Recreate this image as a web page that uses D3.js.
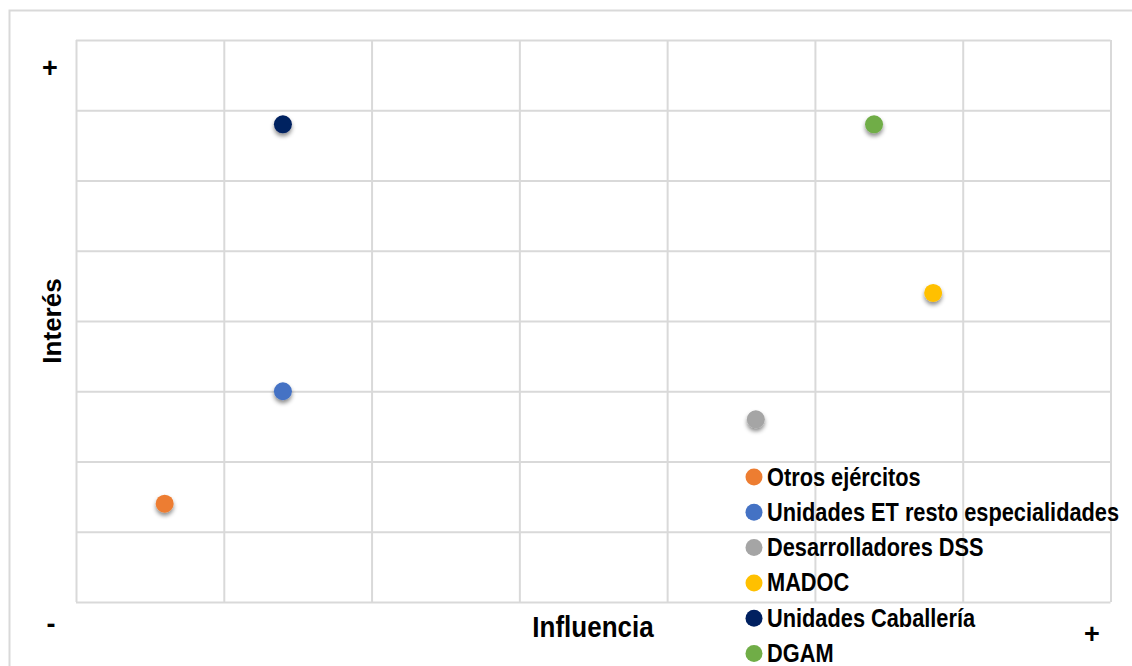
<!DOCTYPE html>
<html>
<head>
<meta charset="utf-8">
<script src="https://cdn.jsdelivr.net/npm/d3@7"></script>
<style>
  html, body { margin: 0; padding: 0; background: #ffffff; }
  svg { display: block; font-family: "Liberation Sans", Arial, sans-serif; }
</style>
</head>
<body>
<svg id="chart" width="1132" height="666"></svg>
<script>
// Stakeholder map: influence (x) vs interest (y)
const stakeholders = ["Otros ejércitos", "Unidades ET resto especialidades", "Desarrolladores DSS", "MADOC", "Unidades Caballería", "DGAM"];
const influence = [0.6, 1.4, 4.6, 5.8, 1.4, 5.4];
const interest  = [1.4, 3.0, 2.6, 4.4, 6.8, 6.8];
const colors    = ["#ED7D31", "#4472C4", "#A5A5A5", "#FFC000", "#002060", "#70AD47"];
const xTicks = [0, 1, 2, 3, 4, 5, 6, 7];
const yTicks = [0, 1, 2, 3, 4, 5, 6, 7, 8];

const svg = d3.select("#chart");
const W = 1132, H = 666;
const plot = { left: 76, right: 1110.5, top: 40, bottom: 602 };

const x = d3.scaleLinear().domain([0, 7]).range([plot.left, plot.right]);
const y = d3.scaleLinear().domain([0, 8]).range([plot.bottom, plot.top]);

// soft shadow under the markers
const defs = svg.append("defs");
const f = defs.append("filter").attr("id", "shadow")
  .attr("x", "-60%").attr("y", "-60%").attr("width", "220%").attr("height", "220%");
f.append("feDropShadow").attr("dx", 0).attr("dy", 3).attr("stdDeviation", 2.2)
  .attr("flood-color", "#000").attr("flood-opacity", 0.45);

// outer frame
svg.append("rect")
  .attr("x", 9.5).attr("y", 10.5).attr("width", W).attr("height", H)
  .attr("fill", "none").attr("stroke", "#d9d9d9").attr("stroke-width", 2);

// grid lines drawn through the axes
const gridX = d3.axisBottom(x).tickValues(xTicks).tickSize(-(plot.bottom - plot.top)).tickFormat("");
const gridY = d3.axisLeft(y).tickValues(yTicks).tickSize(-(plot.right - plot.left)).tickFormat("");

const gx = svg.append("g").attr("transform", `translate(0,${plot.bottom})`).call(gridX);
const gy = svg.append("g").attr("transform", `translate(${plot.left},0)`).call(gridY);
[gx, gy].forEach(g => {
  g.select(".domain").remove();
  g.selectAll(".tick line").attr("stroke", "#d9d9d9").attr("stroke-width", 2);
});

// axis titles
svg.append("text")
  .attr("transform", "translate(593,637) scale(1,1.12)")
  .attr("text-anchor", "middle")
  .attr("font-size", 26).attr("font-weight", "bold").attr("fill", "#000")
  .text("Influencia");

svg.append("text")
  .attr("transform", "translate(61,321) rotate(-90)")
  .attr("text-anchor", "middle")
  .attr("font-size", 26).attr("font-weight", "bold").attr("fill", "#000")
  .text("Interés");

// + / - markers at the extremes of each axis
const signs = [
  { t: "+", x: 50, y: 77 },
  { t: "-", x: 51, y: 633 },
  { t: "+", x: 1092, y: 643 }
];
svg.selectAll("text.sign").data(signs).join("text")
  .attr("class", "sign")
  .attr("x", d => d.x).attr("y", d => d.y)
  .attr("text-anchor", "middle")
  .attr("font-size", 27).attr("font-weight", "bold").attr("fill", "#000")
  .text(d => d.t);

// data points
const pts = stakeholders.map((name, i) => ({ name, x: influence[i], y: interest[i], c: colors[i] }));
svg.append("g").selectAll("circle").data(pts).join("circle")
  .attr("cx", d => x(d.x)).attr("cy", d => y(d.y))
  .attr("r", 9)
  .attr("fill", d => d.c)
  .attr("filter", "url(#shadow)");

// legend
const legend = svg.append("g").attr("transform", "translate(754,477)");
const rows = legend.selectAll("g").data(pts).join("g")
  .attr("transform", (d, i) => `translate(0,${i * 35.3})`);
rows.append("circle").attr("r", 8.5).attr("fill", d => d.c);
rows.append("text")
  .attr("transform", "translate(13,8.5) scale(0.99,1.13)")
  .attr("font-size", 22).attr("font-weight", "bold").attr("fill", "#000")
  .text(d => d.name);
</script>
</body>
</html>
